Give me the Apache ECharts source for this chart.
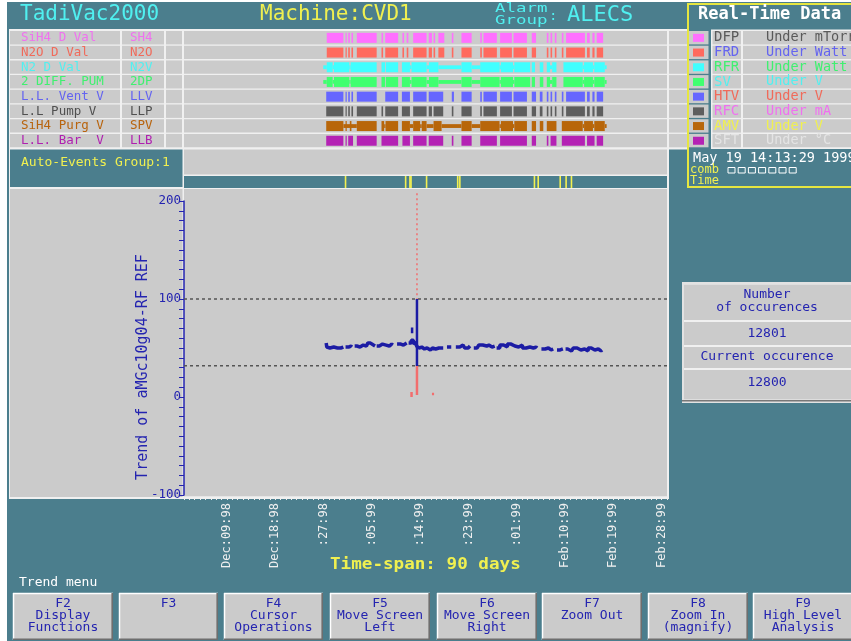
<!DOCTYPE html>
<html>
<head>
<meta charset="utf-8">
<script src="https://cdn.jsdelivr.net/npm/echarts@6/dist/echarts.min.js"></script>
<style>
html,body{margin:0;padding:0;background:#fff;}
#c{width:851px;height:641px;}
</style>
</head>
<body>
<div id="c"></div>
<script>
// ---------- data ----------
// channel rows (digital status strips)
const rowNames  = ['SiH4 D Val','N2O D Val','N2 D Val','2 DIFF. PUM','L.L. Vent V','L.L Pump V','SiH4 Purg V','L.L. Bar  V'];
const rowCodes  = ['SH4','N2O','N2V','2DP','LLV','LLP','SPV','LLB'];
const rowTextColors = ['#f070f0','#f06a5a','#50f0f0','#40f070','#6464f0','#505050','#b8640e','#b020b0'];
const rowBarColors  = ['#ff70ff','#ff6a5e','#40ffff','#40ff70','#6666ff','#5e5e5e','#b8660a','#b422b4'];

// on-intervals in days since 1 Dec 1998
const sh4On = [[26.6,29.7],[30.1,30.3],[30.6,30.9],[31.2,31.5],[32.2,35.9],[36.8,37.1],[37.5,39.9],[40.7,41.0],[41.5,41.8],[42.7,45.2],[45.6,46.2],[46.5,46.8],[47.4,48.5],[49.9,50.2],[51.7,53.6],[55.2,55.5],[55.8,58.3],[58.9,61.1],[61.4,63.9],[64.8,65.6],[67.6,67.9],[68.3,68.6],[69.1,69.4],[70.4,70.7],[71.2,74.7],[75.1,75.6],[76.1,76.5],[76.9,78.1]];
const n2oOn = [[26.6,29.7],[30.1,30.3],[30.6,30.9],[31.2,31.5],[32.2,35.9],[36.8,37.1],[37.5,39.9],[40.7,41.0],[41.5,41.8],[42.7,45.2],[45.6,46.2],[46.5,46.8],[47.4,48.5],[49.9,50.2],[51.7,53.6],[55.2,55.5],[55.8,58.3],[58.9,61.1],[61.4,63.9],[64.8,65.6],[67.6,67.9],[68.3,68.6],[69.1,69.4],[70.4,70.7],[71.2,74.7],[75.1,75.6],[76.1,76.5],[76.9,78.1]];
const n2vOn   = [[26.6,27.7],[27.95,30.8],[31.05,35.9],[36.8,37.45],[37.6,39.9],[40.6,42.1],[42.4,45.2],[45.65,47.4],[51.7,53.6],[55.2,58.8],[59.05,61.3],[61.55,64.5],[64.8,65.4],[66.3,66.95],[67.6,68.2],[68.6,69.4],[70.7,74.3],[74.55,76.2],[76.45,78.4]];
const n2vThin = [[25.95,26.6],[27.7,27.95],[30.8,31.05],[42.1,42.4],[45.2,45.65],[47.4,51.7],[53.6,55.2],[58.8,59.05],[61.3,61.55],[68.2,68.6],[74.3,74.55],[76.2,76.45],[78.4,78.75]];
const dpOn    = [[26.6,27.7],[27.95,30.8],[31.05,35.9],[36.8,37.45],[37.6,39.9],[40.6,42.1],[42.4,45.2],[45.65,47.4],[51.7,53.6],[55.2,58.8],[59.05,61.3],[61.55,64.5],[64.8,65.4],[66.3,66.95],[67.6,68.2],[68.6,69.4],[70.7,74.3],[74.55,76.2],[76.45,78.4]];
const dpThin  = [[25.95,26.6],[27.7,27.95],[30.8,31.05],[42.1,42.4],[45.2,45.65],[47.4,51.7],[53.6,55.2],[58.8,59.05],[61.3,61.55],[68.2,68.6],[74.3,74.55],[76.2,76.45],[78.4,78.75]];
const llvOn = [[26.5,29.7],[30.1,30.3],[30.6,30.9],[31.2,31.5],[32.2,35.9],[37.5,39.9],[40.6,42.1],[42.7,45.2],[45.6,48.3],[49.9,50.3],[51.7,53.6],[55.2,55.5],[55.8,58.3],[58.9,61.1],[61.4,63.9],[64.8,65.6],[66.3,66.8],[67.6,67.9],[68.3,68.6],[69.1,69.4],[70.4,70.7],[71.2,74.7],[75.1,75.6],[76.1,76.5],[76.9,78.1]];
const llpOn = [[26.5,29.7],[30.1,30.3],[30.6,30.9],[31.2,31.5],[32.2,35.9],[36.8,37.1],[37.5,39.9],[40.6,42.1],[42.7,45.2],[45.6,46.2],[46.5,48.3],[49.9,50.2],[51.7,53.6],[55.2,55.5],[55.8,58.3],[58.9,61.1],[61.4,63.9],[64.8,65.6],[66.3,66.8],[67.6,67.9],[68.3,68.6],[69.1,69.4],[70.4,70.7],[71.2,74.7],[75.1,75.6],[76.1,76.5],[76.9,78.1]];
const spvOn   = [[26.5,29.7],[30.1,30.3],[30.9,31.2],[32.2,35.9],[36.8,37.3],[37.55,39.9],[40.6,42.1],[42.7,44.0],[44.3,45.2],[46.5,48.0],[51.7,53.6],[55.2,58.8],[59.05,61.3],[61.55,63.9],[64.8,65.6],[66.3,66.95],[67.6,69.4],[70.4,74.3],[74.55,76.2],[76.45,78.4]];
const spvThin = [[29.7,32.2],[37.3,37.55],[42.1,42.7],[44.0,44.3],[45.2,46.5],[48.0,51.7],[53.6,55.2],[58.8,59.05],[61.3,61.55],[74.3,74.55],[76.2,76.45],[78.4,78.75]];
const llbOn = [[26.5,29.7],[30.1,30.3],[30.6,31.5],[32.2,35.9],[36.8,39.9],[40.7,42.1],[42.7,45.2],[45.6,48.3],[49.9,50.2],[51.7,53.6],[55.2,58.3],[58.9,63.9],[64.8,65.6],[67.6,67.9],[68.3,69.4],[70.4,74.7],[75.1,76.5],[76.9,78.1]];

// auto-events (days)
const eventDays = [30.1,41.3,42.1,42.3,45.2,51.0,51.4,65.3,66.0,70.1,71.2,72.2];

// trend of aMGc10g04-RF REF, regular samples (null = no sample)
const trendDays = [
  26.5,26.7,27.2,27.9,28.6,29.2,29.7,29.8,
  30.4,30.9,31.3,31.4,
  32.2,32.8,33.4,34.0,34.5,35.0,35.6,35.7,
  36.1,36.7,37.3,38.0,38.5,38.9,39.0,
  40.4,40.9,41.5,41.6,
  42.1,42.6,42.9,43.2,43.5,43.8,44.3,44.8,45.3,45.9,46.3,46.9,47.5,48.3,48.4,
  49.6,49.8,49.9,
  51.4,52.0,52.6,53.3,53.4,
  54.6,55.3,56.0,56.8,57.4,57.9,58.0,
  58.5,59.2,59.9,60.6,61.3,62.0,62.7,63.4,64.1,64.8,65.4,65.8,65.9,
  67.3,67.9,68.4,68.8,68.9,
  70.1,70.6,70.7,
  71.5,72.2,72.9,73.6,74.3,75.0,75.6,76.2,76.9,77.5,77.9
];
const trendValues = [
  55,51,50,51,50,50,51,null,
  51,52,51,null,
  52,51,53,52,55,53,52,null,
  52,54,53,52,54,53,null,
  54,53,55,null,
  55,58,54,56,52,50,51,49,50,48,50,49,50,50,null,
  51,51,null,
  51,53,50,52,null,
  50,53,52,53,51,52,null,
  50,53,51,54,52,51,53,50,51,50,51,50,null,
  49,50,48,49,null,
  48,49,null,
  49,47,50,48,49,47,50,48,49,47,48
];

// isolated excursions around the cursor (single samples, drawn thin)
const spikeDays = [
  43.41,43.41,43.41,43.41,43.42,
  42.5,42.5,42.51,
  42.4,42.4,42.41,
  46.2,46.6,46.61
];
const spikeValues = [
  56,100,2,52,null,
  71,65,null,
  5,0,null,
  3,3,null
];

const upperLimit = 100;
const lowerLimit = 32;
const cursorDay = 43.41;
const cursorTop = 208;

const xTickDays   = [8,17,26,35,44,53,62,71,80,89];
const xTickLabels = ['Dec:09:98','Dec:18:98',':27:98',':05:99',':14:99',':23:99',':01:99','Feb:10:99','Feb:19:99','Feb:28:99'];
const yTickValues = [-100,0,100,200];

// real-time data panel
const rtCodes  = ['DFP','FRD','RFR','SV','HTV','RFC','AMV','SFT'];
const rtUnits  = ['Under mTorr','Under Watt','Under Watt','Under V','Under V','Under mA','Under V','Under \u00b0C'];
const rtColors = ['#5a5a5a','#6464f0','#40f070','#50f0f0','#f06a5a','#f070f0','#f0f050','#e4e4e4'];

const buttonLabels = ['F2\nDisplay\nFunctions','F3','F4\nCursor\nOperations','F5\nMove Screen\nLeft','F6\nMove Screen\nRight','F7\nZoom Out','F8\nZoom In\n(magnify)','F9\nHigh Level\nAnalysis'];

// ---------- look ----------
const TEAL = '#4b7e8d', GRAY = '#cbcbcb', LITE = '#f0f0f0', BLUE = '#2424b0';
const YEL = '#f0f050', CYAN = '#50f0f0', TRACE = '#1c1ca4', RED = '#f26e6e';
const MONO = '"DejaVu Sans Mono","Liberation Mono",monospace';
const ROW_TOP = 30, ROW_H = 14.7;

const els = [];
function R(x, y, w, h, fill, z) {
  els.push({type:'rect', silent:true, z: z == null ? -10 : z, shape:{x, y, width:w, height:h}, style:{fill}});
}
function L(x1, y1, x2, y2, stroke, w, z) {
  els.push({type:'line', silent:true, z: z == null ? -9 : z, shape:{x1, y1, x2, y2}, style:{stroke, lineWidth: w || 1}});
}
function T(x, y, text, color, size, o) {
  o = o || {};
  els.push({
    type:'text', silent:true, z: 20, x, y,
    scaleX: o.sx || 1, rotation: o.rot || 0,
    style:{
      text, fill: color,
      font: (o.bold ? 'bold ' : '') + size + 'px ' + MONO,
      textAlign: o.align || 'left', align: o.align || 'left',
      textVerticalAlign: o.va || 'middle', verticalAlign: o.va || 'middle',
      lineHeight: o.lh || size
    }
  });
}

// page & title bar
R(0, 0, 851, 641, '#ffffff', -20);
R(7, 2, 844, 639, TEAL, -19);
T(20, 15, 'TadiVac2000', CYAN, 21);
T(260, 15, 'Machine:CVD1', YEL, 21);
T(495, 9, 'Alarm', CYAN, 12, {sx:1.45});
T(495, 21, 'Group', CYAN, 12, {sx:1.45});
T(549, 16, ':', CYAN, 14);
T(567, 15, 'ALECS', CYAN, 22);

// channel rows
R(9, 29, 678, 120, LITE);
for (let i = 0; i < 8; i++) {
  const y = ROW_TOP + i * ROW_H + 1, h = ROW_H - 1.3, cy = ROW_TOP + (i + 0.5) * ROW_H + 0.5;
  R(10, y, 110, h, GRAY);
  R(122, y, 42, h, GRAY);
  R(166, y, 16, h, GRAY);
  R(184, y, 483, h, GRAY);
  R(669, y, 18, h, GRAY);
  T(21, cy, rowNames[i], rowTextColors[i], 12.5);
  T(130, cy, rowCodes[i], rowTextColors[i], 12.5);
}

// auto-events band
R(9, 148, 678, 41, LITE);
R(10, 149.5, 172.5, 37.5, TEAL);
R(184, 149.5, 483, 25, GRAY);
R(184, 176, 483, 12, TEAL);
R(669, 149.5, 18, 39.5, TEAL);
T(21, 163, 'Auto-Events Group:1', YEL, 13);

// trend area
R(9, 188, 660, 311, LITE);
R(10, 189, 172.5, 308, GRAY);
R(184, 189, 483, 308, GRAY);
T(143, 367, 'Trend of aMGc10g04-RF REF', BLUE, 15, {rot: Math.PI / 2, align:'center'});
T(330, 565, 'Time-span: 90 days', YEL, 16, {bold:true, sx:1.1});

// real-time data panel
R(687, 3, 170, 185, '#e6e640');
R(689, 5, 170, 181, TEAL);
T(698, 15, 'Real-Time Data', '#ffffff', 17, {bold:true});
R(711, 29.5, 150, 119.5, LITE);
for (let i = 0; i < 8; i++) {
  const y = ROW_TOP + i * ROW_H + 1, h = ROW_H - 1.3, cy = ROW_TOP + (i + 0.5) * ROW_H + 0.5;
  R(689, y, 19.5, h, GRAY);
  R(693, cy - 4, 11, 8, rowBarColors[i], -8);
  R(712.5, y, 28.5, h, GRAY);
  R(743, y, 110, h, GRAY);
  T(714, cy, rtCodes[i], rtColors[i], 14);
  T(766, cy, rtUnits[i], rtColors[i], 13.5);
}
T(693, 158, 'May 19 14:13:29 1999', '#ffffff', 13.5);
T(690, 170, 'comb', YEL, 12);
T(690, 181, 'Time', YEL, 12);
for (let k = 0; k < 7; k++) {
  els.push({type:'rect', silent:true, z:20, shape:{x: 728 + k * 10.2, y: 167.5, width: 7, height: 5.5}, style:{fill:'none', stroke:'#ffffff', lineWidth:1}});
}

// occurrence box
R(682, 282, 169, 121, '#e2e2e2');
R(684, 284, 167, 117, LITE);
R(684, 284.5, 167, 35.5, GRAY);
R(684, 322, 167, 23, GRAY);
R(684, 347, 167, 21, GRAY);
R(684, 370, 167, 29.5, GRAY);
L(682, 400.8, 851, 400.8, '#777777', 1.6, -8);
T(767, 295, 'Number', BLUE, 13, {align:'center'});
T(767, 308, 'of occurences', BLUE, 13, {align:'center'});
T(767, 333.5, '12801', BLUE, 13, {align:'center'});
T(767, 356.5, 'Current occurence', BLUE, 13, {align:'center'});
T(767, 382.5, '12800', BLUE, 13, {align:'center'});

// function-key menu
T(19, 583, 'Trend menu', '#ffffff', 13);
const btnX = [[13,113],[119,218],[224,323],[330,430],[437,537],[542,642],[648,748],[753,853]];
btnX.forEach((b, i) => {
  const x = b[0], w = b[1] - b[0], y = 593, h = 47;
  R(x, y, w, h, GRAY);
  L(x, y + 0.5, x + w, y + 0.5, '#ffffff', 1.5);
  L(x + 0.5, y, x + 0.5, y + h, '#ffffff', 1.5);
  L(x, y + h - 0.8, x + w, y + h - 0.8, '#6e6e6e', 1.6);
  L(x + w - 0.8, y, x + w - 0.8, y + h, '#6e6e6e', 1.6);
  T(x + w / 2, 598, buttonLabels[i], BLUE, 13, {align:'center', va:'top', lh:12});
});

// ---------- series data ----------
const toPairs = (xs, ys) => xs.map((d, i) => [d, ys[i] == null ? '-' : ys[i]]);
const trendData = toPairs(trendDays, trendValues);
const spikeData = toPairs(spikeDays, spikeValues);

const rowSets = [[sh4On, []], [n2oOn, []], [n2vOn, n2vThin], [dpOn, dpThin], [llvOn, []], [llpOn, []], [spvOn, spvThin], [llbOn, []]];
const rowData = [];
rowSets.forEach((set, r) => {
  set[0].forEach(iv => rowData.push([r, iv[0], iv[1], 1]));
  set[1].forEach(iv => rowData.push([r, iv[0], iv[1], 0]));
});

const labelFor = v => {
  const k = xTickDays.indexOf(Math.round(v));
  return k >= 0 ? xTickLabels[k] : '';
};

const dashStyle = {color:'#555555', type:[3,3], width:1.5};

const chart = echarts.init(document.getElementById('c'), null, {renderer:'canvas'});
chart.setOption({
  animation: false,
  backgroundColor: 'transparent',
  graphic: {elements: els},
  grid: [
    {left:184, top:201, width:483, height:294, show:false},
    {left:184, top:176, width:483, height:12, show:false},
    {left:184, top:ROW_TOP, width:483, height:ROW_H * 8, show:false}
  ],
  xAxis: [
    {
      gridIndex:0, type:'value', min:0, max:90, interval:1, offset:2,
      axisLine:{show:true, onZero:false, lineStyle:{color:LITE, width:1.5}},
      axisTick:{show:true, length:3, lineStyle:{color:LITE}},
      splitLine:{show:false},
      axisLabel:{customValues:xTickDays, formatter:labelFor, rotate:90, color:LITE, fontFamily:MONO, fontSize:12, margin:6}
    },
    {gridIndex:1, type:'value', min:0, max:90, show:false},
    {gridIndex:2, type:'value', min:0, max:90, show:false}
  ],
  yAxis: [
    {
      gridIndex:0, type:'value', min:-100, max:200, interval:10, offset:3,
      axisLine:{show:true, lineStyle:{color:BLUE, width:1.5}},
      axisTick:{show:true, length:5, lineStyle:{color:BLUE}},
      splitLine:{show:false},
      axisLabel:{customValues:yTickValues, color:BLUE, fontFamily:MONO, fontSize:12.5, margin:0}
    },
    {gridIndex:1, type:'value', min:0, max:1, show:false},
    {gridIndex:2, type:'category', data:rowCodes, inverse:true, show:false}
  ],
  // samples below the lower limit are drawn red
  visualMap: {
    show:false, type:'piecewise', seriesIndex:[0, 1], dimension:1,
    pieces:[{gte:-100, lt:lowerLimit, color:RED}, {gte:lowerLimit, lte:200, color:TRACE}]
  },
  series: [
    {
      name:'aMGc10g04-RF REF', type:'line', xAxisIndex:0, yAxisIndex:0,
      data: trendData, showSymbol:false, connectNulls:false, step:'middle', z:5,
      lineStyle:{width:3.5}
    },
    {
      name:'excursions', type:'line', xAxisIndex:0, yAxisIndex:0,
      data: spikeData, showSymbol:false, connectNulls:false, z:6,
      lineStyle:{width:2.5}
    },
    {
      name:'upper limit', type:'line', xAxisIndex:0, yAxisIndex:0, z:4,
      data:[[0, upperLimit], [90, upperLimit]], showSymbol:false, lineStyle:dashStyle
    },
    {
      name:'lower limit', type:'line', xAxisIndex:0, yAxisIndex:0, z:4,
      data:[[0, lowerLimit], [90, lowerLimit]], showSymbol:false, lineStyle:dashStyle
    },
    {
      name:'cursor', type:'line', xAxisIndex:0, yAxisIndex:0, z:4, clip:false,
      data:[[cursorDay, cursorTop], [cursorDay, upperLimit]], showSymbol:false,
      lineStyle:{color:RED, type:[2,3], width:1.5}
    },
    {
      name:'events', type:'custom', xAxisIndex:1, yAxisIndex:1,
      data: eventDays.map(d => [d, 0]), encode:{x:0, y:1},
      renderItem: function (params, api) {
        const p = api.coord([api.value(0), 0]);
        const cs = params.coordSys;
        return {type:'rect', shape:{x:p[0] - 0.8, y:cs.y, width:1.6, height:cs.height}, style:{fill:'#f4f050'}};
      }
    },
    {
      name:'channels', type:'custom', xAxisIndex:2, yAxisIndex:2,
      data: rowData, encode:{x:[1,2], y:0},
      renderItem: function (params, api) {
        const r = api.value(0);
        const s = api.coord([api.value(1), r]);
        const e = api.coord([api.value(2), r]);
        const band = api.size([0, 1])[1];
        const h = api.value(3) === 1 ? band * 0.68 : band * 0.26;
        return {type:'rect', shape:{x:s[0], y:s[1] - h / 2 + 0.5, width:Math.max(e[0] - s[0], 1.2), height:h}, style:{fill:rowBarColors[r]}};
      }
    }
  ]
});
</script>
</body>
</html>
